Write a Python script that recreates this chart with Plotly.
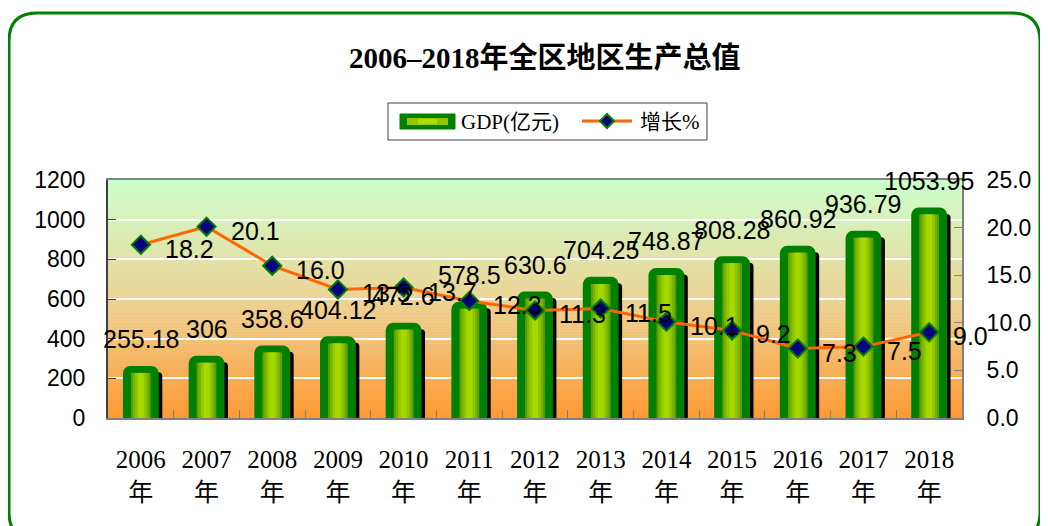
import plotly.graph_objects as go

years = ["2006", "2007", "2008", "2009", "2010", "2011", "2012",
         "2013", "2014", "2015", "2016", "2017", "2018"]
gdp = [255.18, 306, 358.6, 404.12, 472.6, 578.5, 630.6,
       704.25, 748.87, 808.28, 860.92, 936.79, 1053.95]
growth = [18.2, 20.1, 16.0, 13.5, 13.7, 12.3, 11.3, 11.5, 10.1, 9.2, 7.3, 7.5, 9.0]
gdp_labels = ["255.18", "306", "358.6", "404.12", "472.6", "578.5", "630.6",
              "704.25", "748.87", "808.28", "860.92", "936.79", "1053.95"]
growth_labels = ["18.2", "20.1", "16.0", "13.5", "13.7", "12.3", "11.3",
                 "11.5", "10.1", "9.2", "7.3", "7.5", "9.0"]
cats = [y + "<br>年" for y in years]

OFF = 8  # page body margin
W, H = 1048 - OFF, 526 - OFF
L, R, T, B = 108, 962, 180, 418  # plot area in page pixels
PW, PH = R - L, B - T


def px(x):
    return (x - L) / PW


def py(y):
    return (B - y) / PH


SANS = "Liberation Sans, Arial, sans-serif"
SERIF = "Liberation Serif, Noto Sans CJK SC, serif"

fig = go.Figure()

# shadow
fig.add_trace(go.Bar(x=cats, y=[v - 25 for v in gdp], width=0.5, offset=-0.25 + 0.076,
                     marker=dict(color="black", cornerradius=4, line=dict(width=0)),
                     hoverinfo="skip", showlegend=False))
# outer green
fig.add_trace(go.Bar(x=cats, y=gdp, width=0.5,
                     marker=dict(color="#008000", cornerradius=6,
                                 line=dict(color="#008000", width=3)),
                     showlegend=False, name="GDP(亿元)"))
# inner gradient layers
for w, c in [(0.30, "#5e9e00"), (0.24, "#78b400"), (0.17, "#8fc800"), (0.09, "#a6d800")]:
    fig.add_trace(go.Bar(x=cats, y=[v - 28 for v in gdp], width=w,
                         marker=dict(color=c, line=dict(width=0)),
                         hoverinfo="skip", showlegend=False))

fig.add_trace(go.Scatter(x=cats, y=growth, yaxis="y2", mode="lines+markers",
                         line=dict(color="#FF6600", width=3),
                         marker=dict(symbol="diamond", size=14, color="#000080",
                                     line=dict(color="#008000", width=2)),
                         name="增长%", showlegend=False))

ann = []
for c, v, t in zip(cats, gdp, gdp_labels):
    ann.append(dict(x=c, y=v, xref="x", yref="y", text=t, showarrow=False,
                    yanchor="middle", yshift=28, font=dict(family=SANS, size=25, color="black")))
for c, v, t in zip(cats, growth, growth_labels):
    ann.append(dict(x=c, y=v, xref="x", yref="y2", text=t, showarrow=False,
                    xanchor="left", yanchor="middle", xshift=22, yshift=-4,
                    font=dict(family=SANS, size=25, color="black")))

# title
ann.append(dict(x=px(545), y=py(58), xref="paper", yref="paper", xanchor="center",
                yanchor="middle",
                text="<b>2006–2018年全区地区生产总值</b>", showarrow=False,
                font=dict(family=SERIF, size=29, color="black")))
# legend texts
ann.append(dict(x=px(459), y=py(122), xref="paper", yref="paper", xanchor="left",
                yanchor="middle",
                text="GDP(亿元)", showarrow=False, font=dict(family=SERIF, size=21, color="black")))
ann.append(dict(x=px(638), y=py(122), xref="paper", yref="paper", xanchor="left",
                yanchor="middle",
                text="增长%", showarrow=False, font=dict(family=SERIF, size=21, color="black")))

shapes = []
# background gradient
stops = [(0.0, (255, 153, 51)), (0.5, (236, 212, 150)), (1.0, (204, 255, 204))]


def col(t):
    for (t0, c0), (t1, c1) in zip(stops[:-1], stops[1:]):
        if t0 <= t <= t1:
            f = (t - t0) / (t1 - t0)
            return "rgb(%d,%d,%d)" % tuple(round(a + (b - a) * f) for a, b in zip(c0, c1))
    return "rgb(204,255,204)"


N = 80
for i in range(N):
    shapes.append(dict(type="rect", xref="paper", yref="paper", x0=0, x1=1,
                       y0=i / N, y1=(i + 1) / N + 0.002, fillcolor=col((i + 0.5) / N),
                       line=dict(width=0), layer="below"))

# rounded outer border
x0, y0, x1, y1, r = 9, 13, 1040, 540, 28
path = (f"M {px(x0)} {py(y0 + r)} Q {px(x0)} {py(y0)} {px(x0 + r)} {py(y0)} "
        f"L {px(x1 - r)} {py(y0)} Q {px(x1)} {py(y0)} {px(x1)} {py(y0 + r)} "
        f"L {px(x1)} {py(y1 - r)} Q {px(x1)} {py(y1)} {px(x1 - r)} {py(y1)} "
        f"L {px(x0 + r)} {py(y1)} Q {px(x0)} {py(y1)} {px(x0)} {py(y1 - r)} Z")
shapes.append(dict(type="path", xref="paper", yref="paper", path=path,
                   line=dict(color="#008000", width=3), layer="above"))

# legend box
shapes.append(dict(type="rect", xref="paper", yref="paper", x0=px(388), x1=px(707),
                   y0=py(140), y1=py(103), fillcolor="white",
                   line=dict(color="#404040", width=1), layer="above"))
# legend bar swatch
shapes.append(dict(type="rect", xref="paper", yref="paper", x0=px(400), x1=px(455),
                   y0=py(129), y1=py(114), fillcolor="#008000",
                   line=dict(color="#008000", width=1), layer="above"))
shapes.append(dict(type="rect", xref="paper", yref="paper", x0=px(407), x1=px(448),
                   y0=py(125), y1=py(118), fillcolor="#8fc800",
                   line=dict(width=0), layer="above"))
shapes.append(dict(type="rect", xref="paper", yref="paper", x0=px(418), x1=px(437),
                   y0=py(124), y1=py(119), fillcolor="#b0dc00",
                   line=dict(width=0), layer="above"))
# legend line swatch
shapes.append(dict(type="line", xref="paper", yref="paper", x0=px(582), x1=px(632),
                   y0=py(121), y1=py(121), line=dict(color="#FF6600", width=3), layer="above"))
d = 7
cx, cy = 607, 121
dpath = (f"M {px(cx - d)} {py(cy)} L {px(cx)} {py(cy - d)} L {px(cx + d)} {py(cy)} "
         f"L {px(cx)} {py(cy + d)} Z")
shapes.append(dict(type="path", xref="paper", yref="paper", path=dpath,
                   fillcolor="#000080", line=dict(color="#008000", width=2), layer="above"))

fig.update_layout(
    width=W, height=H,
    margin=dict(l=L - OFF, r=W - (R - OFF), t=T - OFF, b=H - (B - OFF), pad=0),
    paper_bgcolor="white", plot_bgcolor="rgba(0,0,0,0)",
    barmode="overlay", bargap=0.5,
    showlegend=False,
    annotations=ann, shapes=shapes,
    xaxis=dict(type="category", range=[-0.5, len(cats) - 0.5],
               showline=True, linecolor="#808080", linewidth=2, mirror=True,
               ticks="inside", tickson="boundaries", ticklen=8, tickcolor="#808080",
               tickfont=dict(family=SERIF, size=25, color="black"),
               ticklabelstandoff=18, showgrid=False),
    yaxis=dict(range=[0, 1200], dtick=200, showline=True, linecolor="#404040", linewidth=2,
               ticks="inside", ticklen=8, tickcolor="#404040",
               gridcolor="white", gridwidth=1.5,
               tickfont=dict(family=SANS, size=23, color="black"), ticklabelstandoff=16,
               zeroline=False),
    yaxis2=dict(range=[0, 25], dtick=5, tickformat=".1f", overlaying="y", side="right",
                showline=True, linecolor="#808080", linewidth=2, ticks="inside", ticklen=8,
                tickcolor="#808080", showgrid=False, zeroline=False,
                tickfont=dict(family=SANS, size=23, color="black"), ticklabelstandoff=18),
)

fig.write_html("out.html")
